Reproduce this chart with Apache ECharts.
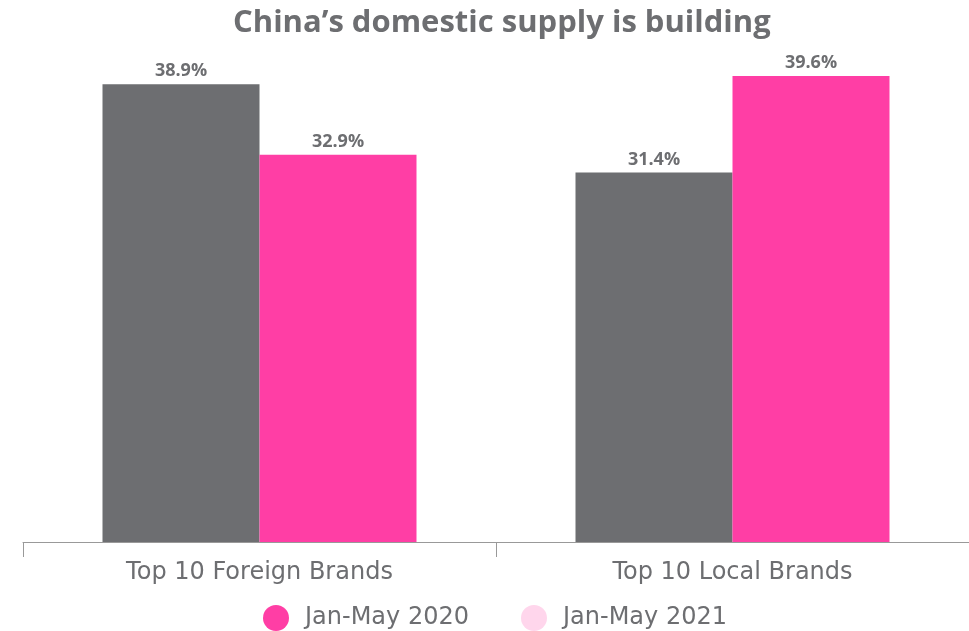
<!DOCTYPE html>
<html>
<head>
<meta charset="utf-8">
<script src="https://cdn.jsdelivr.net/npm/echarts@6/dist/echarts.min.js"></script>
<style>
  html, body { margin: 0; padding: 0; background: #fff; }
  #chart { width: 969px; height: 631px; }
</style>
</head>
<body>
<div id="chart"></div>
<script>
const categories = ['Top 10 Foreign Brands', 'Top 10 Local Brands']
const seriesNames = ['Jan-May 2020', 'Jan-May 2021']
const values2020 = [38.9, 31.4]
const values2021 = [32.9, 39.6]

const textGray = '#6D6E71'
const headFont = 'Open Sans'
const bodyFont = 'DejaVu Sans'

const chart = echarts.init(document.getElementById('chart'))

const barLabel = {
  show: true,
  position: 'top',
  distance: 4,
  formatter: (p) => p.value.toFixed(1) + '%',
  color: textGray,
  fontSize: 18,
  fontWeight: 'bold',
  fontFamily: headFont
}

chart.setOption({
  animation: false,
  title: {
    text: 'China\u2019s domestic supply is building',
    left: 228,
    top: 3,
    textStyle: {
      color: textGray,
      fontSize: 31,
      fontWeight: 'bold',
      fontFamily: headFont
    }
  },
  legend: {
    top: 600,
    left: 258,
    icon: 'circle',
    itemWidth: 26,
    itemHeight: 26,
    itemGap: 52,
    textStyle: {
      color: textGray,
      fontSize: 24,
      fontFamily: bodyFont,
      padding: [0, 0, 0, 11]
    },
    data: [
      { name: seriesNames[0], itemStyle: { color: '#FF3EA5' } },
      { name: seriesNames[1], itemStyle: { color: '#FFD6EC' } }
    ]
  },
  grid: {
    left: 23,
    right: 0,
    top: 76,
    bottom: 89
  },
  xAxis: {
    type: 'category',
    data: categories,
    axisLine: { lineStyle: { color: '#999999', width: 1 } },
    axisTick: { show: true, length: 15, lineStyle: { color: '#999999' } },
    axisLabel: {
      color: textGray,
      fontSize: 24,
      fontFamily: bodyFont,
      margin: 19
    }
  },
  yAxis: {
    type: 'value',
    min: 0,
    max: 39.6,
    show: false,
    splitLine: { show: false }
  },
  series: [
    {
      name: seriesNames[0],
      type: 'bar',
      data: values2020,
      barWidth: 157,
      barGap: '0%',
      itemStyle: { color: '#6D6E71' },
      label: barLabel
    },
    {
      name: seriesNames[1],
      type: 'bar',
      data: values2021,
      barWidth: 157,
      barGap: '0%',
      itemStyle: { color: '#FF3EA5' },
      label: barLabel
    }
  ]
})
</script>
</body>
</html>
